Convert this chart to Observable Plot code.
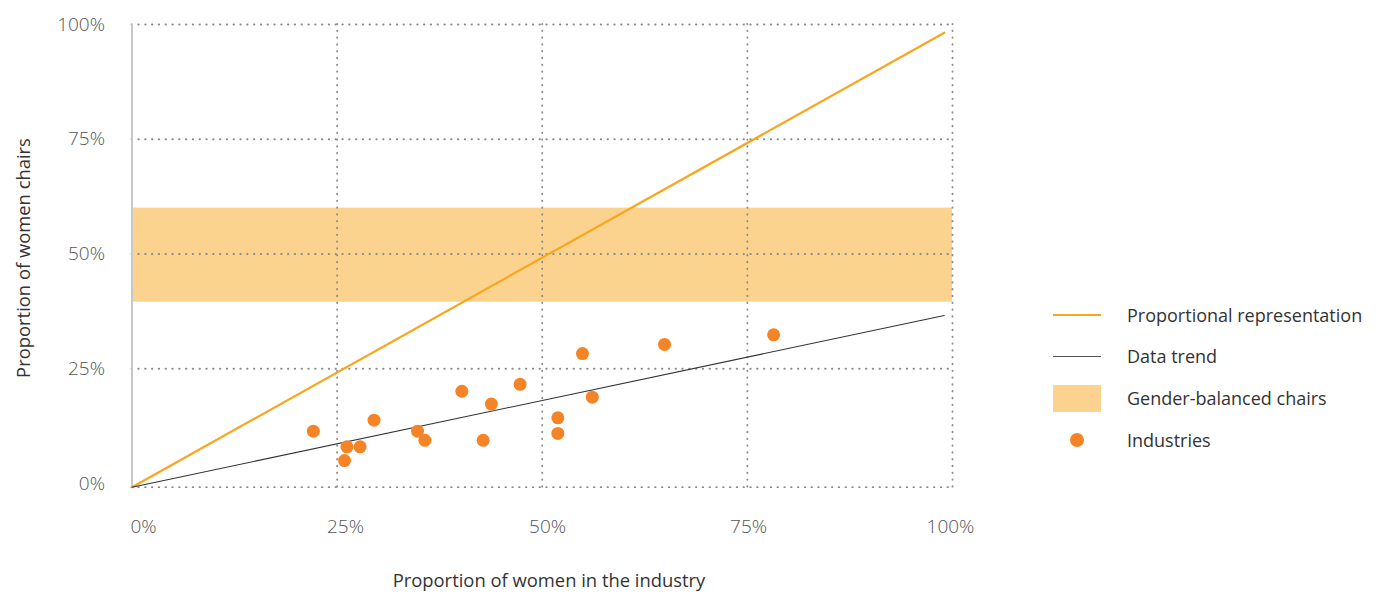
<!DOCTYPE html>
<html>
<head>
<meta charset="utf-8">
<script src="https://cdn.jsdelivr.net/npm/d3@7"></script>
<script src="https://cdn.jsdelivr.net/npm/@observablehq/plot@0.6"></script>
<style>
  body { margin: 0; background: #fff; font-family: "Open Sans", sans-serif; }
  #wrap { position: relative; width: 1378px; height: 595px; }
  .legend { position: absolute; left: 1053px; top: 0; font-family: "Open Sans", sans-serif; font-size: 18px; color: #333; }
  .row { position: absolute; left: 0; width: 325px; height: 30px; display: flex; align-items: center; }
  .sw { width: 48px; margin-right: 26px; display: flex; align-items: center; justify-content: center; }
  .xlab { position: absolute; font-size: 18.4px; color: #333; }
  svg text { font-size: 19px; }
</style>
</head>
<body>
<div id="wrap"></div>
<script>
// ---- data ----
const ticks = [0, 25, 50, 75, 100];
const tickLabels = ["0%", "25%", "50%", "75%", "100%"];
const industryX = [22.1, 25.9, 26.2, 27.8, 29.5, 34.8, 35.7, 40.2, 42.8, 43.8, 47.3, 51.9, 51.9, 54.9, 56.1, 64.9, 78.2];
const industryY = [11.4, 5.0, 8.0, 8.0, 13.8, 11.4, 9.4, 20.1, 9.4, 17.3, 21.6, 14.3, 10.9, 28.3, 18.8, 30.3, 32.4];
const propX = [0, 99];
const propY = [-0.8, 98.2];
const trendX = [0, 99];
const trendY = [-0.8, 36.6];
const bandX = [0, 100];
const bandY = [39.5, 60];
const baseY = [-0.8];
const legendLabels = ["Proportional representation", "Data trend", "Gender-balanced chairs", "Industries"];

const industries = industryX.map((x, i) => ({x, y: industryY[i]}));
const prop = propX.map((x, i) => ({x, y: propY[i]}));
const trend = trendX.map((x, i) => ({x, y: trendY[i]}));
const fmt = d => tickLabels[ticks.indexOf(d)];

const gridStyle = {stroke: "#8a8a8a", strokeOpacity: 1, strokeWidth: 1.8, strokeDasharray: "0.5,6.3", strokeLinecap: "round"};
const labelShift = [11.5, 8.4, 5.3, 1.2, -2];

const chart = Plot.plot({
  width: 1378,
  height: 595,
  marginLeft: 131.5,
  marginRight: 426,
  marginTop: 24,
  marginBottom: 112,
  style: {fontFamily: "Open Sans, sans-serif", fontSize: "19px", color: "#555", background: "#fff"},
  x: {domain: [0, 100], ticks: ticks, tickFormat: fmt, label: null},
  y: {domain: [0, 100], ticks: ticks, tickFormat: fmt, label: null},
  marks: [
    Plot.rect([{}], {x1: bandX[0], x2: bandX[1], y1: bandY[0], y2: bandY[1], fill: "#FCD38E"}),
    Plot.gridX(ticks.filter(d => d > 0), {...gridStyle, y1: baseY[0], y2: 100}),
    Plot.gridY(ticks.filter(d => d > 0), {...gridStyle}),
    Plot.ruleY(baseY, {...gridStyle}),
    Plot.ruleX([0], {stroke: "#c8c8c8", strokeWidth: 2, y1: baseY[0], y2: 100}),
    ...ticks.map((t, i) => Plot.axisX([t], {tickSize: 0, tickPadding: 36, dx: labelShift[i], fill: "#555", fontWeight: 300, fontSize: 19, tickFormat: fmt, label: null})),
    Plot.axisY(ticks, {tickSize: 0, tickPadding: 27, fill: "#555", fontWeight: 300, fontSize: 19, tickFormat: fmt, label: null}),
    Plot.line(prop, {x: "x", y: "y", stroke: "#F9A61E", strokeWidth: 2.2}),
    Plot.line(trend, {x: "x", y: "y", stroke: "#333", strokeWidth: 1.1}),
    Plot.dot(industries, {x: "x", y: "y", r: 6.5, fill: "#F58426", stroke: "none"})
  ]
});

const wrap = document.getElementById("wrap");
wrap.appendChild(chart);

// axis titles
const xt = document.createElement("div");
xt.className = "xlab";
xt.textContent = "Proportion of women in the industry";
xt.style.left = "0px"; xt.style.width = "1098px"; xt.style.textAlign = "center"; xt.style.top = "567px";
wrap.appendChild(xt);

const yt = document.createElement("div");
yt.className = "xlab";
yt.textContent = "Proportion of women chairs";
yt.style.left = "22px"; yt.style.top = "258px";
yt.style.transform = "translate(-50%,-50%) rotate(-90deg)";
yt.style.whiteSpace = "nowrap";
wrap.appendChild(yt);

// legend
const legend = document.createElement("div");
legend.className = "legend";
const rowsTop = [300, 341, 383, 425];
const swatches = [
  '<div style="width:48px;height:2.5px;background:#F9A61E"></div>',
  '<div style="width:48px;height:1px;background:#555"></div>',
  '<div style="width:48px;height:27px;background:#FCD38E"></div>',
  '<div style="width:14px;height:14px;border-radius:50%;background:#F58426"></div>'
];
legendLabels.forEach((t, i) => {
  const r = document.createElement("div");
  r.className = "row";
  r.style.top = rowsTop[i] + "px";
  r.innerHTML = '<div class="sw">' + swatches[i] + '</div><span>' + t + '</span>';
  legend.appendChild(r);
});
wrap.appendChild(legend);
</script>
</body>
</html>
